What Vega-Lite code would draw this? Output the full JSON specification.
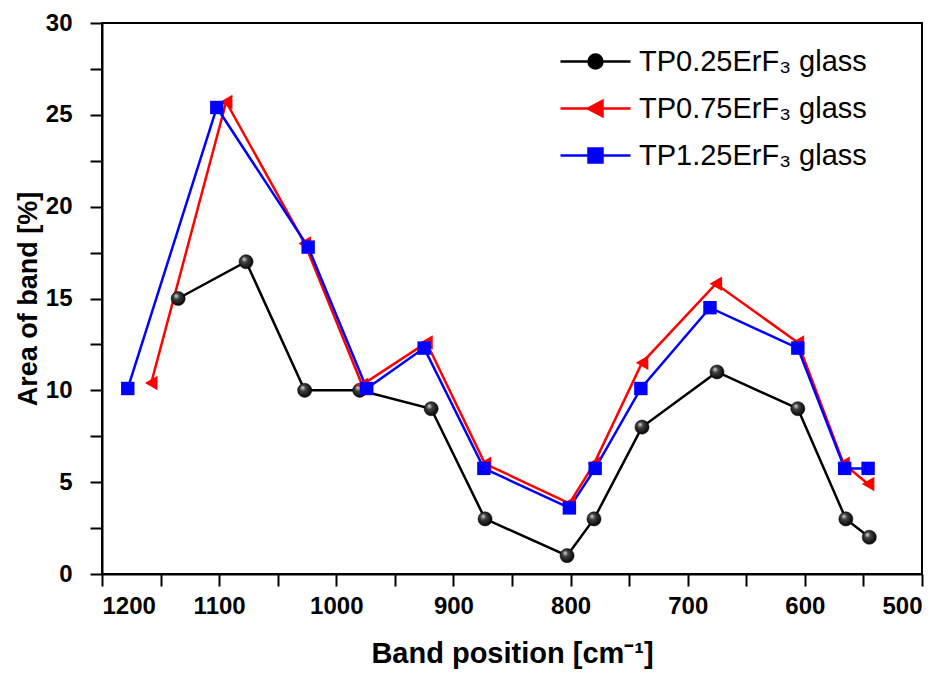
{
  "$schema": "https://vega.github.io/schema/vega-lite/v6.json",
  "width": 820,
  "height": 551,
  "autosize": {"type": "none"},
  "padding": {"left": 102, "top": 23, "right": 26, "bottom": 101},
  "background": "white",
  "config": {
    "view": {"stroke": "black", "strokeWidth": 2},
    "axis": {
      "domainColor": "black", "domainWidth": 2, "tickColor": "black", "tickWidth": 2,
      "labelFont": "Liberation Sans", "labelFontWeight": "bold", "labelFontSize": 24, "labelColor": "black",
      "titleFont": "Liberation Sans", "titleFontWeight": "bold", "titleColor": "black",
      "grid": false, "labelOverlap": false
    }
  },
  "data": {"values": [
    {"series": "TP0.25ErF₃ glass", "x": 1135, "y": 15},
    {"series": "TP0.25ErF₃ glass", "x": 1077, "y": 17},
    {"series": "TP0.25ErF₃ glass", "x": 1027, "y": 10},
    {"series": "TP0.25ErF₃ glass", "x": 980, "y": 10},
    {"series": "TP0.25ErF₃ glass", "x": 919, "y": 9},
    {"series": "TP0.25ErF₃ glass", "x": 873, "y": 3},
    {"series": "TP0.25ErF₃ glass", "x": 803, "y": 1},
    {"series": "TP0.25ErF₃ glass", "x": 780, "y": 3},
    {"series": "TP0.25ErF₃ glass", "x": 739, "y": 8},
    {"series": "TP0.25ErF₃ glass", "x": 675, "y": 11},
    {"series": "TP0.25ErF₃ glass", "x": 606, "y": 9},
    {"series": "TP0.25ErF₃ glass", "x": 565, "y": 3},
    {"series": "TP0.25ErF₃ glass", "x": 545, "y": 2},
    {"series": "TP0.75ErF₃ glass", "x": 1158, "y": 10.4},
    {"series": "TP0.75ErF₃ glass", "x": 1094, "y": 25.7},
    {"series": "TP0.75ErF₃ glass", "x": 1027, "y": 18.0},
    {"series": "TP0.75ErF₃ glass", "x": 978, "y": 10.3},
    {"series": "TP0.75ErF₃ glass", "x": 923, "y": 12.6},
    {"series": "TP0.75ErF₃ glass", "x": 873, "y": 6.0},
    {"series": "TP0.75ErF₃ glass", "x": 801, "y": 3.85},
    {"series": "TP0.75ErF₃ glass", "x": 780, "y": 6.0},
    {"series": "TP0.75ErF₃ glass", "x": 739, "y": 11.5},
    {"series": "TP0.75ErF₃ glass", "x": 676, "y": 15.8},
    {"series": "TP0.75ErF₃ glass", "x": 606, "y": 12.6},
    {"series": "TP0.75ErF₃ glass", "x": 567, "y": 6.0},
    {"series": "TP0.75ErF₃ glass", "x": 546, "y": 4.9},
    {"series": "TP1.25ErF₃ glass", "x": 1178, "y": 10.1},
    {"series": "TP1.25ErF₃ glass", "x": 1102, "y": 25.4},
    {"series": "TP1.25ErF₃ glass", "x": 1024, "y": 17.8},
    {"series": "TP1.25ErF₃ glass", "x": 974, "y": 10.1},
    {"series": "TP1.25ErF₃ glass", "x": 925, "y": 12.3},
    {"series": "TP1.25ErF₃ glass", "x": 874, "y": 5.75},
    {"series": "TP1.25ErF₃ glass", "x": 801, "y": 3.6},
    {"series": "TP1.25ErF₃ glass", "x": 779, "y": 5.75},
    {"series": "TP1.25ErF₃ glass", "x": 740, "y": 10.1},
    {"series": "TP1.25ErF₃ glass", "x": 681, "y": 14.5},
    {"series": "TP1.25ErF₃ glass", "x": 606, "y": 12.3},
    {"series": "TP1.25ErF₃ glass", "x": 566, "y": 5.75},
    {"series": "TP1.25ErF₃ glass", "x": 546, "y": 5.75}
  ]},
  "encoding": {
    "x": {
      "field": "x", "type": "quantitative",
      "scale": {"domain": [1200, 500], "nice": false, "zero": false},
      "axis": {
        "title": "Band position [cm⁻¹]", "titleFontSize": 29, "titlePadding": 21,
        "format": "d",
        "values": [1200, 1150, 1100, 1050, 1000, 950, 900, 850, 800, 750, 700, 650, 600, 550, 500],
        "labelExpr": "datum.value % 100 === 0 ? datum.label : ''",
        "tickSize": 12, "labelPadding": 8,
        "encode": {"ticks": {"y2": {"value": {"expr": "datum.value % 100 === 0 ? 12 : 6"}}}}
      }
    },
    "y": {
      "field": "y", "type": "quantitative",
      "scale": {"domain": [0, 30], "nice": false},
      "axis": {
        "title": "Area of band [%]", "titleFontSize": 27, "titlePadding": 3,
        "values": [0, 2.5, 5, 7.5, 10, 12.5, 15, 17.5, 20, 22.5, 25, 27.5, 30],
        "labelExpr": "datum.value % 5 === 0 ? datum.label : ''",
        "tickSize": 12, "labelPadding": 18,
        "encode": {"ticks": {"x2": {"value": {"expr": "datum.value % 5 === 0 ? -12 : -6"}}}}
      }
    },
    "color": {
      "field": "series", "type": "nominal",
      "scale": {"domain": ["TP0.25ErF₃ glass", "TP0.75ErF₃ glass", "TP1.25ErF₃ glass"], "range": ["#000000", "#ff0000", "#0000ff"]},
      "legend": {
        "orient": "none", "legendX": 479, "legendY": 24, "title": null, "padding": 0,
        "labelFont": "Liberation Sans", "labelFontSize": 29, "labelColor": "black", "labelLimit": 0,
        "symbolSize": 196, "labelOffset": 29, "rowPadding": 17,
        "encode": {"symbols": {"update": {
          "shape": {"signal": "indexof(datum.value, '0.25') >= 0 ? 'M-5,0H-1M1,0H5M-1,0A1,1 0 1,0 1,0A1,1 0 1,0 -1,0Z' : indexof(datum.value, '0.75') >= 0 ? 'M-5,0H-1M1,0H5M-1.1,0L1,-1.1L1,1.1Z' : 'M-5,0H-1M1,0H5M-1,-1H1V1H-1Z'"},
          "fill": {"signal": "scale('color', datum.value)"},
          "stroke": {"signal": "scale('color', datum.value)"},
          "strokeWidth": {"value": 2.5},
          "opacity": {"value": 1},
          "fillOpacity": {"value": 1}
        }}}
      }
    }
  },
  "layer": [
    {"mark": {"type": "line", "strokeWidth": 2.5}},
    {
      "transform": [{"filter": "indexof(datum.series, '0.25') >= 0"}],
      "mark": {"type": "point", "shape": "circle", "size": 200, "opacity": 1, "filled": true,
        "fill": {"gradient": "radial", "x1": 0.35, "y1": 0.3, "r1": 0, "x2": 0.45, "y2": 0.45, "r2": 0.6,
          "stops": [{"offset": 0, "color": "#e0e0e0"}, {"offset": 0.35, "color": "#404040"}, {"offset": 1, "color": "#000000"}]},
        "stroke": "#000000", "strokeWidth": 0.5},
      "encoding": {"color": {"value": null}}
    },
    {
      "transform": [{"filter": "indexof(datum.series, '0.75') >= 0"}],
      "mark": {"type": "point", "shape": "triangle-left", "filled": true, "size": 210, "opacity": 1}
    },
    {
      "transform": [{"filter": "indexof(datum.series, '1.25') >= 0"}],
      "mark": {"type": "point", "shape": "square", "filled": true, "size": 180, "opacity": 1}
    }
  ]
}
